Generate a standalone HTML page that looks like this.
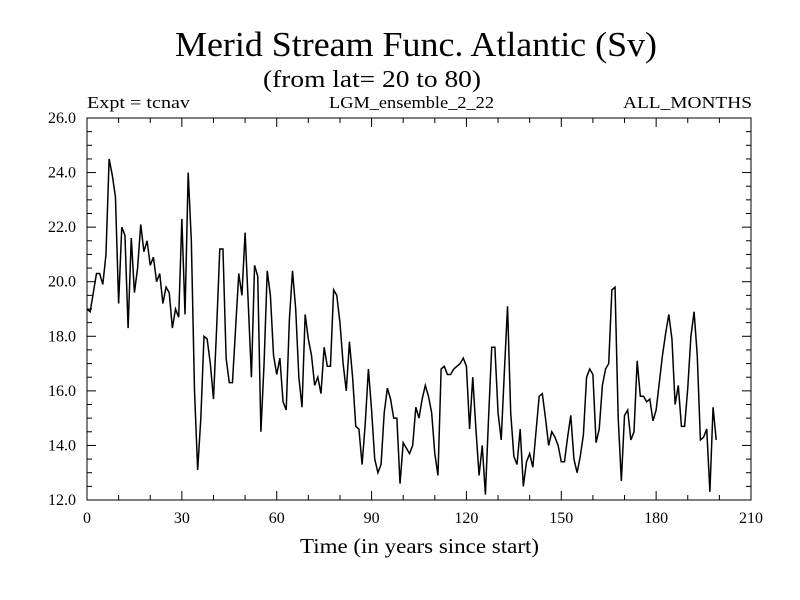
<!DOCTYPE html>
<html><head><meta charset="utf-8"><style>
html,body{margin:0;padding:0;background:#fff}
svg{display:block;font-family:"Liberation Serif",serif}
</style></head><body>
<svg id="c" width="800" height="600">
<text x="175" y="56" font-size="35" textLength="482" lengthAdjust="spacingAndGlyphs">Merid Stream Func. Atlantic (Sv)</text>
<text x="263" y="87" font-size="24" textLength="218" lengthAdjust="spacingAndGlyphs">(from lat= 20 to 80)</text>
<text x="87" y="108" font-size="17" textLength="103" lengthAdjust="spacingAndGlyphs">Expt = tcnav</text>
<text x="329" y="108" font-size="17" textLength="165" lengthAdjust="spacingAndGlyphs">LGM_ensemble_2_22</text>
<text x="623" y="108" font-size="17" textLength="129" lengthAdjust="spacingAndGlyphs">ALL_MONTHS</text>
<text x="300" y="553" font-size="21" textLength="239" lengthAdjust="spacingAndGlyphs">Time (in years since start)</text>
<rect x="87" y="118" width="664" height="382" fill="none" stroke="#000" stroke-width="1"/>
<g id="ticks"></g>
<path id="line" fill="none" stroke="#000" stroke-width="1.5"/>
</svg>
<script>
const yTicks=[12,14,16,18,20,22,24,26];
const yTickLabels=["12.0","14.0","16.0","18.0","20.0","22.0","24.0","26.0"];
const xTicks=[0,30,60,90,120,150,180,210];
const xTickLabels=["0","30","60","90","120","150","180","210"];
const values=[19.0,18.9,19.6,20.3,20.3,19.9,21.0,24.5,23.9,23.1,19.2,22.0,21.7,18.3,21.6,19.6,20.5,22.1,21.1,21.5,
20.6,20.9,20.0,20.3,19.2,19.8,19.6,18.3,19.0,18.7,22.3,18.8,24.0,21.5,16.0,13.1,15.0,18.0,17.9,17.0,
15.7,18.3,21.2,21.2,17.2,16.3,16.3,18.3,20.3,19.5,21.8,19.2,16.5,20.6,20.2,14.5,17.0,20.4,19.5,17.3,
16.6,17.2,15.6,15.3,18.6,20.4,19.0,16.5,15.4,18.8,17.9,17.3,16.2,16.5,15.9,17.6,16.9,16.9,19.7,19.5,
18.5,17.0,16.0,17.8,16.5,14.7,14.6,13.3,14.8,16.8,15.3,13.5,13.0,13.3,15.2,16.1,15.7,15.0,15.0,12.6,
14.1,13.9,13.7,14.0,15.4,15.0,15.7,16.2,15.8,15.2,13.7,12.9,16.8,16.9,16.6,16.6,16.8,16.9,17.0,17.2,
16.9,14.6,16.5,14.6,12.9,14.0,12.2,15.0,17.6,17.6,15.2,14.2,16.7,19.1,15.2,13.6,13.3,14.6,12.5,13.4,
13.7,13.2,14.5,15.8,15.9,15.0,14.0,14.5,14.3,14.0,13.4,13.4,14.3,15.1,13.5,13.0,13.6,14.4,16.5,16.8,
16.6,14.1,14.6,16.2,16.8,17.0,19.7,19.8,15.0,12.7,15.1,15.3,14.2,14.5,17.1,15.8,15.8,15.6,15.7,14.9,
15.3,16.3,17.3,18.1,18.8,17.9,15.5,16.2,14.7,14.7,16.1,18.0,18.9,17.3,14.2,14.3,14.6,12.3,15.4,14.2];
const X0=87,X1=751,Y0=500,Y1=118;
const xs=v=>X0+(v-0)/210*(X1-X0);
const ys=v=>Y0-(v-12)/14*(Y0-Y1);
const NS="http://www.w3.org/2000/svg";
const g=document.getElementById('ticks');
function ln(x1,y1,x2,y2,name){const l=document.createElementNS(NS,'line');
l.setAttribute('x1',x1);l.setAttribute('y1',y1);l.setAttribute('x2',x2);l.setAttribute('y2',y2);
l.setAttribute('stroke','#000');l.setAttribute('stroke-width','1');


g.appendChild(l);}
function tx(x,y,s,anchor,name){const t=document.createElementNS(NS,'text');
t.setAttribute('x',x);t.setAttribute('y',y);t.setAttribute('font-size','16');t.setAttribute('text-anchor',anchor);t.textContent=s;


g.appendChild(t);}
for(let v=12;v<=26.001;v+=0.5){const y=ys(v);const major=Math.abs(v/2-Math.round(v/2))<1e-6;const L=major?9:5;
ln(X0,y,X0+L,y,'y-tick');ln(X1-L,y,X1,y,'y-tick-right');}
yTicks.forEach((v,i)=>tx(X0-11,ys(v)+5,yTickLabels[i],'end','y-tick-label'));
for(let v=0;v<=210;v+=10){const x=xs(v);const major=v%30===0;const L=major?9:5;
ln(x,Y0,x,Y0-L,'x-tick');ln(x,Y1,x,Y1+L,'x-tick-top');}
xTicks.forEach((v,i)=>tx(xs(v),Y0+23,xTickLabels[i],'middle','x-tick-label'));
let d='';values.forEach((v,i)=>{d+=(i?'L':'M')+xs(i).toFixed(2)+','+ys(v).toFixed(2);});
document.getElementById('line').setAttribute('d',d);
</script>
</body></html>
